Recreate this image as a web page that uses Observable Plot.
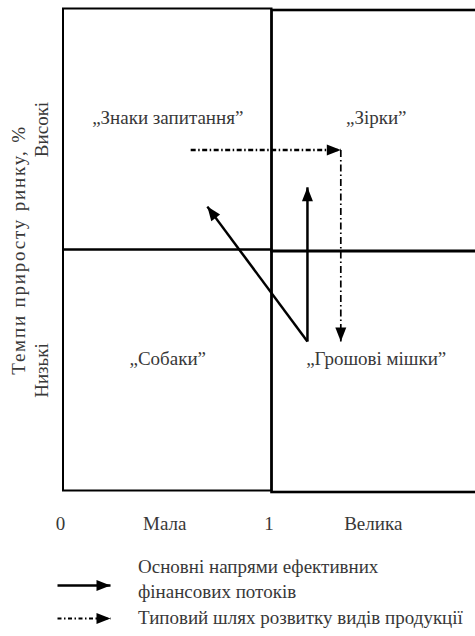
<!DOCTYPE html>
<html>
<head>
<meta charset="utf-8">
<script src="https://cdn.jsdelivr.net/npm/d3@7"></script>
<script src="https://cdn.jsdelivr.net/npm/@observablehq/plot@0.6"></script>
<style>
  html, body { margin: 0; padding: 0; overflow: hidden; background: #fff; width: 475px; height: 636px; }
  body { position: relative; font-family: "Liberation Serif", "Times New Roman", "DejaVu Serif", serif; color: #383838; }
  .legend-text { position: absolute; left: 138px; font-size: 19px; line-height: 25px; white-space: nowrap; }
  .swatch { position: absolute; left: 56px; }
</style>
</head>
<body>
<div id="chart"></div>
<div class="swatch" id="sw1" style="top:578px"></div>
<div class="legend-text" id="lg1" style="top:554px"></div>
<div class="swatch" id="sw2" style="top:611px"></div>
<div class="legend-text" id="lg2" style="top:605px"></div>
<script>
// Matrix cells (relative market share 0–2, market growth 0–2)
const cellX1 = [0, 0, 1, 1];
const cellX2 = [1, 1, 2.1, 2.1];
const cellY1 = [1, 0, 1, 0];
const cellY2 = [2, 1, 2, 1];
const cellCol = ["left", "left", "right", "right"];

// Quadrant names
const quadrantNames = ["„Знаки запитання”", "„Зірки”", "„Собаки”", "„Грошові мішки”"];
const quadrantX = [0.5, 1.5, 0.5, 1.5];
const quadrantY = [1.55, 1.55, 0.55, 0.55];

// Main directions of financial flows (solid arrows)
const flowX1 = [1.17, 1.17];
const flowY1 = [0.62, 0.62];
const flowX2 = [1.17, 0.69];
const flowY2 = [1.26, 1.18];

// Typical development path (dash-dot arrows)
const pathX1 = [0.61, 1.33];
const pathY1 = [1.415, 1.415];
const pathX2 = [1.33, 1.33];
const pathY2 = [1.415, 0.62];

// Axis tick labels
const xTickValues = [0, 0.5, 1, 1.5];
const xTickLabels = ["0", "Мала", "1", "Велика"];
const xTickY = -0.135;

// Y axis labels
const yLabelTexts = ["Темпи приросту ринку, %", "Високі", "Низькі"];
const yLabelX = [-0.215, -0.105, -0.105];
const yLabelY = [1, 1.5, 0.5];

// Legend
const legendLine1 = ["Основні напрями ефективних", "фінансових потоків"];
const legendLine2 = ["Типовий шлях розвитку видів продукції"];

const cells = cellX1.map((d, i) => ({x1: cellX1[i], x2: cellX2[i], y1: cellY1[i], y2: cellY2[i], col: cellCol[i]}));
const quads = quadrantNames.map((t, i) => ({t, x: quadrantX[i], y: quadrantY[i]}));
const flows = flowX1.map((d, i) => ({x1: flowX1[i], y1: flowY1[i], x2: flowX2[i], y2: flowY2[i]}));
const paths = pathX1.map((d, i) => ({x1: pathX1[i], y1: pathY1[i], x2: pathX2[i], y2: pathY2[i]}));
const ticks = xTickValues.map((x, i) => ({x, t: xTickLabels[i]}));
const ylabels = yLabelTexts.map((t, i) => ({t, x: yLabelX[i], y: yLabelY[i]}));

const FONT = "Liberation Serif";
const TEXTCOL = "#383838";

function fillArrows(svg) {
  svg.querySelectorAll("marker").forEach(m => {
    const c = m.getAttribute("stroke") || "black";
    m.setAttribute("viewBox", "-14 -6 14 12");
    m.setAttribute("markerWidth", "14");
    m.setAttribute("markerHeight", "12");
    m.setAttribute("markerUnits", "userSpaceOnUse");
    m.setAttribute("refX", "0");
    m.setAttribute("refY", "0");
    m.setAttribute("fill", c);
    m.setAttribute("stroke", "none");
    m.setAttribute("overflow", "visible");
    m.innerHTML = "";
    const p = document.createElementNS("http://www.w3.org/2000/svg", "path");
    p.setAttribute("d", "M-14,-5.5L0,0L-14,5.5Z");
    m.appendChild(p);
  });
}

const chart = Plot.plot({
  width: 475,
  height: 545,
  marginLeft: 0, marginRight: 0, marginTop: 0, marginBottom: 0,
  x: {domain: [0, 2], range: [63, 480], axis: null},
  y: {domain: [0, 2], range: [490.5, 8.5], axis: null},
  style: {fontFamily: FONT, background: "white", overflow: "visible"},
  marks: [
    Plot.rect(cells.filter(d => d.col === "left"), {x1: "x1", x2: "x2", y1: "y1", y2: "y2", fill: "none", stroke: "black", strokeWidth: 2}),
    Plot.rect(cells.filter(d => d.col === "right"), {x1: "x1", x2: "x2", y1: "y1", y2: "y2", fill: "none", stroke: "black", strokeWidth: 2.6, dy: 1.5}),
    Plot.text(quads, {x: "x", y: "y", text: "t", fontSize: 19, fill: TEXTCOL, fontFamily: FONT}),
    Plot.link(flows, {x1: "x1", y1: "y1", x2: "x2", y2: "y2", stroke: "black", strokeWidth: 2.5, markerEnd: "arrow"}),
    Plot.link(paths.slice(0, 1), {x1: "x1", y1: "y1", x2: "x2", y2: "y2", stroke: "black", strokeWidth: 2.6, strokeDasharray: "5,2.5,1.5,2.5", markerEnd: "arrow"}),
    Plot.link(paths.slice(1), {x1: "x1", y1: "y1", x2: "x2", y2: "y2", stroke: "black", strokeWidth: 1.7, strokeDasharray: "7,3,1.5,3", markerEnd: "arrow"}),
    Plot.text(ticks, {x: "x", y: () => xTickY, text: "t", fontSize: 19, fill: TEXTCOL, fontFamily: FONT, dx: -3}),
    Plot.text(ylabels, {x: "x", y: "y", text: "t", rotate: -90, fontSize: 19, fill: TEXTCOL, fontFamily: FONT})
  ]
});
fillArrows(chart);
chart.querySelectorAll("text").forEach(t => {
  if (t.textContent === yLabelTexts[0]) t.setAttribute("letter-spacing", "1.8");
});
document.getElementById("chart").appendChild(chart);

document.getElementById("lg1").innerHTML = legendLine1.join("<br>");
document.getElementById("lg2").innerHTML = legendLine2.join("<br>");

function swatch(dash, sw) {
  const s = Plot.plot({
    width: 56, height: 14,
    marginLeft: 0, marginRight: 0, marginTop: 0, marginBottom: 0,
    x: {domain: [0, 1], range: [1, 54], axis: null},
    y: {domain: [0, 1], range: [14, 0], axis: null},
    style: {overflow: "visible", background: "transparent"},
    marks: [
      Plot.link([{x1: 0, x2: 1, y: 0.5}], {x1: "x1", x2: "x2", y1: "y", y2: "y", stroke: "black", strokeWidth: sw, strokeDasharray: dash, markerEnd: "arrow"})
    ]
  });
  fillArrows(s);
  return s;
}
document.getElementById("sw1").appendChild(swatch(null, 2.5));
document.getElementById("sw2").appendChild(swatch("4,2.5,1.5,2.5", 2));
</script>
</body>
</html>
